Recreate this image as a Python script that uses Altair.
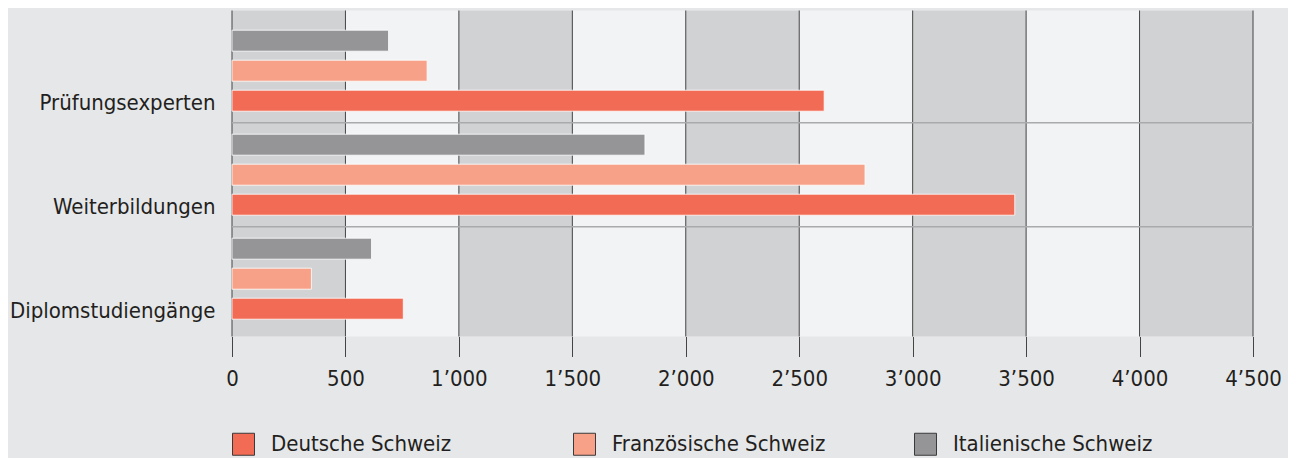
import altair as alt
import pandas as pd

categories = ["Prüfungsexperten", "Weiterbildungen", "Diplomstudiengänge"]
regions = ["Deutsche Schweiz", "Französische Schweiz", "Italienische Schweiz"]
deutsch = [2610, 3450, 755]
franz = [860, 2790, 350]
ital = [690, 1820, 615]
tick_values = [0, 500, 1000, 1500, 2000, 2500, 3000, 3500, 4000, 4500]
band_starts = [0, 1000, 2000, 3000, 4000]
band_ends = [500, 1500, 2500, 3500, 4500]
colors = ["#f26c55", "#f7a188", "#959598"]

FONT = "DejaVu Sans Condensed, sans-serif"
TXT = "#231f20"

rows = []
for i, c in enumerate(categories):
    for r, vals in zip(regions, [deutsch, franz, ital]):
        rows.append({"Kategorie": c, "Region": r, "Wert": vals[i]})
df = pd.DataFrame(rows)

W, H = 1021, 326

xscale = alt.Scale(domain=[0, 4500], nice=False, zero=True)
yscale = alt.Scale(domain=categories, paddingInner=0, paddingOuter=0.0673, align=0.586)

xaxis = alt.Axis(
    title=None, values=tick_values, domain=False, ticks=True, tickSize=20,
    tickColor="#444444", tickWidth=1, grid=False, labelFont=FONT, labelFontSize=22,
    labelColor=TXT, labelPadding=12, labelFlush=False, labelOverlap=False,
    labelExpr="replace(format(datum.value, ','), ',', '’')",
)
yaxis = alt.Axis(
    title=None, domain=False, ticks=False, grid=False, labelFont=FONT,
    labelFontSize=22, labelColor=TXT, labelPadding=17, labelOffset=32, labelLimit=400,
)

bands = alt.Chart(pd.DataFrame({"s": band_starts, "e": band_ends})).mark_rect(
    color="#d1d2d4"
).encode(
    x=alt.X("s:Q", scale=xscale, axis=xaxis),
    x2="e:Q",
)

grid = alt.Chart(pd.DataFrame({"t": tick_values})).mark_rule(
    color="#444444", strokeWidth=1
).encode(
    x=alt.X("t:Q", scale=xscale, axis=xaxis),
)

seps = alt.Chart(pd.DataFrame({"Kategorie": categories[:-1]})).mark_rule(
    color="#a9aaac", strokeWidth=1.5
).encode(
    y=alt.Y("Kategorie:N", bandPosition=1, scale=yscale, sort=categories, axis=yaxis),
)

bars = alt.Chart(df).mark_bar(
    stroke="#ffffff", strokeWidth=1, strokeOpacity=0.8
).encode(
    x=alt.X("Wert:Q", scale=xscale, axis=xaxis),
    y=alt.Y("Kategorie:N", scale=yscale, sort=categories, axis=yaxis),
    yOffset=alt.YOffset(
        "Region:N",
        sort=["Italienische Schweiz", "Französische Schweiz", "Deutsche Schweiz"],
        scale=alt.Scale(paddingInner=0.3, paddingOuter=0.383),
    ),
    color=alt.Color(
        "Region:N",
        scale=alt.Scale(domain=regions, range=colors),
        legend=alt.Legend(
            title=None, orient="none", legendX=0, legendY=422,
            direction="horizontal", columns=3, gridAlign="all", columnPadding=86,
            symbolType="square", symbolSize=484, symbolStrokeColor="#3a3a3a",
            symbolStrokeWidth=1, symbolOpacity=1, labelFont=FONT, labelFontSize=22,
            labelColor=TXT, labelOffset=16, labelLimit=400,
        ),
    ),
)

chart = alt.layer(bands, grid, seps, bars).properties(
    width=W, height=H,
    autosize=alt.AutoSizeParams(type="none"),
    padding={"left": 224, "top": 2.5, "right": 35, "bottom": 121.5},
    background="#e6e7e9",
).configure_view(fill="#f2f3f5", strokeWidth=0)

chart.save("out.html", embed_options={"renderer": "svg", "actions": False})
